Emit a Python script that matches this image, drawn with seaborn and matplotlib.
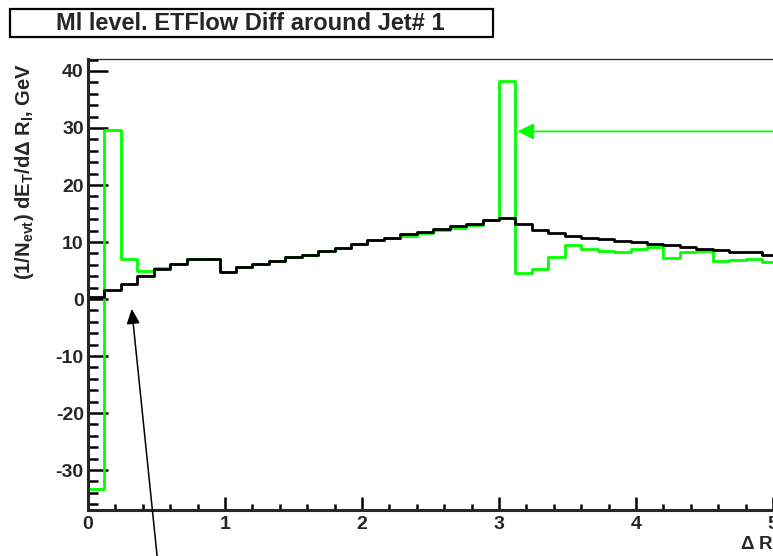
import numpy as np
import pandas as pd
import matplotlib
matplotlib.use("Agg")
import matplotlib.pyplot as plt
from matplotlib.patches import Rectangle
from matplotlib.ticker import MultipleLocator
import seaborn as sns

# ---- data (bin width 0.12 in Delta R) ----
bin_width = 0.12
n_bins = 43
black_vals = [0.4, 1.6, 2.7, 4.0, 5.2, 6.2, 7.0, 7.0, 4.8, 5.6,
              6.2, 6.6, 7.3, 7.8, 8.4, 9.0, 9.7, 10.3, 10.7, 11.4,
              11.8, 12.2, 12.8, 13.2, 13.8, 14.2, 13.2, 12.1, 11.6, 11.0,
              10.7, 10.6, 10.1, 10.0, 9.7, 9.4, 9.2, 8.8, 8.6, 8.2,
              8.2, 7.8, 7.6]
green_vals = [-33.4, 29.6, 7.0, 5.0, 5.5, 6.2, 7.0, 7.0, 4.8, 5.6,
              6.2, 6.6, 7.3, 7.8, 8.4, 9.0, 9.7, 10.3, 10.7, 11.0,
              11.6, 12.1, 12.5, 12.9, 13.8, 38.2, 4.6, 5.2, 7.3, 9.4,
              8.7, 8.4, 8.2, 8.7, 9.1, 7.2, 8.2, 8.4, 6.6, 6.8,
              7.0, 6.5, 6.4]
title_text = "Ml level. ETFlow Diff around Jet# 1"
y_ticks = [-30, -20, -10, 0, 10, 20, 30, 40]
x_ticks = [0, 1, 2, 3, 4, 5]

centers = (np.arange(n_bins) + 0.5) * bin_width
df = pd.DataFrame({"dR": np.concatenate([centers, centers]),
                   "val": np.concatenate([green_vals, black_vals]),
                   "series": ["green"] * n_bins + ["black"] * n_bins})

sns.set_style("ticks")
plt.rcParams["font.family"] = ["Liberation Sans", "DejaVu Sans"]
plt.rcParams["font.weight"] = "bold"
plt.rcParams["axes.unicode_minus"] = False
plt.rcParams["mathtext.fontset"] = "custom"
plt.rcParams["mathtext.rm"] = "Liberation Sans:bold"
plt.rcParams["mathtext.it"] = "Liberation Sans:bold"
plt.rcParams["mathtext.bf"] = "Liberation Sans:bold"

W, H = 773, 556
fig = plt.figure(figsize=(W / 100, H / 100), dpi=100)
x0_px, xaxis_px, top_px = 88, 510, 59
px_per_unit = 137.0
ax_w_px = 6 * px_per_unit
ax = fig.add_axes([x0_px / W, (H - xaxis_px) / H, ax_w_px / W, (xaxis_px - top_px) / H])

brange = (0, bin_width * n_bins)
sns.histplot(data=df[df.series == "green"], x="dR", weights="val",
             binwidth=bin_width, binrange=brange,
             element="step", fill=False, color="#00ff00", linewidth=2.0, ax=ax)
sns.histplot(data=df[df.series == "black"], x="dR", weights="val",
             binwidth=bin_width, binrange=brange,
             element="step", fill=False, color="black", linewidth=2.0, ax=ax)

ax.set_xlim(0, 6)
ax.set_ylim(-37, 42.1)
ax.set_xlabel("")
ax.set_ylabel("")
ax.set_xticks(x_ticks)
ax.set_yticks(y_ticks)
ax.xaxis.set_minor_locator(MultipleLocator(0.2))
ax.yaxis.set_minor_locator(MultipleLocator(2))
ax.tick_params(axis="both", which="both", direction="in", width=1.8, color="black",
               top=False, right=False)
ax.tick_params(axis="y", which="major", length=14.4, pad=3, labelsize=14)
ax.tick_params(axis="y", which="minor", length=7.2)
ax.tick_params(axis="x", which="major", length=9.4, pad=4, labelsize=14)
ax.tick_params(axis="x", which="minor", length=4.5)
for lab in ax.get_xticklabels() + ax.get_yticklabels():
    lab.set_fontweight("bold")
for s in ["left", "bottom"]:
    ax.spines[s].set_linewidth(2.2)
ax.spines["top"].set_linewidth(0.9)
ax.spines["right"].set_linewidth(0.9)

# arrows
ax.annotate("", xy=(3.134, 29.4), xytext=(5.6, 29.4),
            arrowprops=dict(arrowstyle="-|>,head_length=0.45,head_width=0.22",
                            color="#00ff00", lw=1.3, shrinkA=0, shrinkB=0,
                            mutation_scale=22))
ax.annotate("", xy=(0.319, -1.72), xytext=(0.537, -52.7),
            arrowprops=dict(arrowstyle="-|>,head_length=0.45,head_width=0.2",
                            color="black", lw=1.1, shrinkA=0, shrinkB=0,
                            mutation_scale=20),
            annotation_clip=False)

# y label
fig.text(25 / W, 1 - 63 / H,
         r"(1/N$_{\rm evt}$) dE$_{\rm T}$/d$\Delta$ R$_{\rm l}$, GeV",
         rotation=90, ha="center", va="top", fontsize=14.5, fontweight="bold")
# x label (cut off at the right edge, as in the reference)
fig.text(740 / W, 2 / H, r"$\Delta$ R$_{\rm l}$", ha="left", va="bottom",
         fontsize=13.5, fontweight="bold")

# title box
fig.patches.append(Rectangle((10 / W, 1 - 37 / H), 483 / W, 28 / H,
                             transform=fig.transFigure, facecolor="white",
                             edgecolor="black", linewidth=1.6))
fig.text(250 / W, 1 - 23.5 / H, title_text, ha="center", va="center",
         fontsize=17, fontweight="bold")

fig.savefig("out.png", dpi=100, facecolor="white")
